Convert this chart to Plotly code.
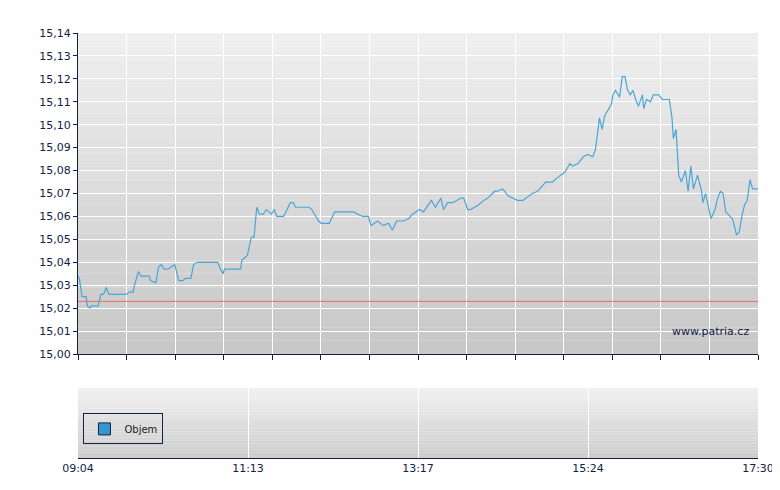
import plotly.graph_objects as go

# minutes since 09:04
t_min = [0,1,3,6,7,9,10,15,17,19,21,23,36,38,41,42,45,47,53,54,58,60,62,64,67,72,75,78,80,84,86,89,104,106,108,109,121,122,126,129,131,133,135,138,140,144,146,148,153,156,158,160,162,170,172,174,179,181,187,191,205,208,212,216,218,223,227,231,234,237,242,246,249,254,257,263,266,270,272,275,279,285,287,290,292,298,302,305,310,312,316,320,324,327,331,336,338,342,345,348,353,359,362,366,368,372,376,379,383,385,387,388,390,392,394,397,398,400,403,405,407,409,411,413,415,417,420,421,423,426,428,432,435,440,442,443,445,447,449,452,454,456,458,461,464,465,467,469,471,474,476,478,480,482,485,487,490,492,494,496,498,500,502,504,506]
price = [15.034,15.033,15.025,15.025,15.021,15.020,15.021,15.021,15.026,15.026,15.029,15.026,15.026,15.027,15.027,15.030,15.036,15.034,15.034,15.032,15.031,15.038,15.039,15.037,15.037,15.039,15.032,15.032,15.033,15.033,15.039,15.040,15.040,15.037,15.035,15.037,15.037,15.041,15.043,15.051,15.051,15.064,15.061,15.061,15.063,15.061,15.063,15.060,15.060,15.064,15.066,15.066,15.064,15.064,15.064,15.063,15.058,15.057,15.057,15.062,15.062,15.061,15.060,15.060,15.056,15.058,15.056,15.057,15.054,15.058,15.058,15.059,15.061,15.063,15.062,15.067,15.064,15.068,15.063,15.066,15.066,15.068,15.068,15.063,15.063,15.065,15.067,15.068,15.071,15.071,15.072,15.069,15.068,15.067,15.067,15.069,15.070,15.071,15.073,15.075,15.075,15.078,15.079,15.083,15.082,15.083,15.086,15.087,15.086,15.089,15.098,15.103,15.098,15.104,15.106,15.109,15.113,15.115,15.112,15.121,15.121,15.115,15.113,15.115,15.111,15.108,15.113,15.107,15.111,15.110,15.113,15.113,15.111,15.111,15.103,15.094,15.098,15.078,15.075,15.080,15.071,15.082,15.072,15.078,15.071,15.066,15.070,15.064,15.059,15.063,15.068,15.071,15.070,15.062,15.060,15.059,15.052,15.053,15.060,15.065,15.067,15.076,15.072,15.072,15.072]
ref_price = 15.023
x_tick_labels = ["09:04", "11:13", "13:17", "15:24", "17:30"]
y_ticks = [15.00,15.01,15.02,15.03,15.04,15.05,15.06,15.07,15.08,15.09,15.10,15.11,15.12,15.13,15.14]

T_END = 506
navy = "#14204a"
fig = go.Figure()
fig.add_trace(go.Scatter(x=[0, T_END], y=[ref_price, ref_price], mode="lines",
                         line=dict(color="#e06060", width=1.2), showlegend=False, hoverinfo="skip"))
fig.add_trace(go.Scatter(x=t_min, y=price, mode="lines", line=dict(color="#4aa6d4", width=1.2),
                         showlegend=False))
fig.add_trace(go.Bar(x=[None], y=[None], name="Objem", xaxis="x2", yaxis="y2",
                     marker=dict(color="#3399cc", line=dict(color=navy, width=1))))

shapes = []
n = 24
def grad(yref, c0, c1):
    for i in range(n):
        f = i / (n - 1)
        c = tuple(int(c0[k] + (c1[k] - c0[k]) * f) for k in range(3))
        shapes.append(dict(type="rect", xref="paper", yref=yref, x0=0, x1=1,
                           y0=1 - (i + 1) / n, y1=1 - i / n, layer="below",
                           line=dict(width=0), fillcolor="rgb(%d,%d,%d)" % c))
grad("y domain", (239, 239, 239), (200, 200, 200))
grad("y2 domain", (240, 240, 240), (205, 205, 205))

step = T_END / 14
fig.update_layout(
    width=780, height=490, margin=dict(l=70, r=30, t=25, b=40),
    paper_bgcolor="white", plot_bgcolor="rgba(0,0,0,0)",
    separators=",.",
    font=dict(family="DejaVu Sans", size=11, color=navy),
    shapes=shapes,
    xaxis=dict(domain=[0, 1], range=[0, T_END], tickvals=[i * step for i in range(15)],
               showticklabels=False, ticks="outside", ticklen=5, tickcolor=navy,
               showgrid=True, gridcolor="white", gridwidth=1.2, zeroline=False,
               showline=True, linecolor=navy, linewidth=1, anchor="y"),
    yaxis=dict(domain=[0.2447, 1], range=[15.00, 15.14], tickvals=y_ticks, tickformat=".2f",
               ticks="outside", ticklen=4, tickcolor=navy, showgrid=True, gridcolor="white",
               gridwidth=1.2, zeroline=False, showline=True, linecolor=navy, linewidth=1),
    xaxis2=dict(domain=[0, 1], range=[0, T_END], tickvals=[i * T_END / 4 for i in range(5)],
                ticktext=x_tick_labels, anchor="y2", showgrid=True, gridcolor="white",
                gridwidth=1.2, zeroline=False, showline=True, linecolor=navy, linewidth=1,
                ticks="", tickfont=dict(size=11)),
    yaxis2=dict(domain=[0, 0.1647], range=[0, 1], showticklabels=False, showgrid=False,
                zeroline=False, showline=False),
    showlegend=True,
    legend=dict(x=0.008, y=0.105, xanchor="left", yanchor="top", bgcolor="rgba(0,0,0,0)",
                bordercolor=navy, borderwidth=1, font=dict(size=10, color="#222"),
                itemwidth=30),
    annotations=[dict(text="www.patria.cz", xref="paper", yref="paper", x=0.99,
                      y=(450 - 323) / 425, xanchor="right", yanchor="middle",
                      showarrow=False, font=dict(size=11, color=navy))],
)
fig.write_html("out.html")
